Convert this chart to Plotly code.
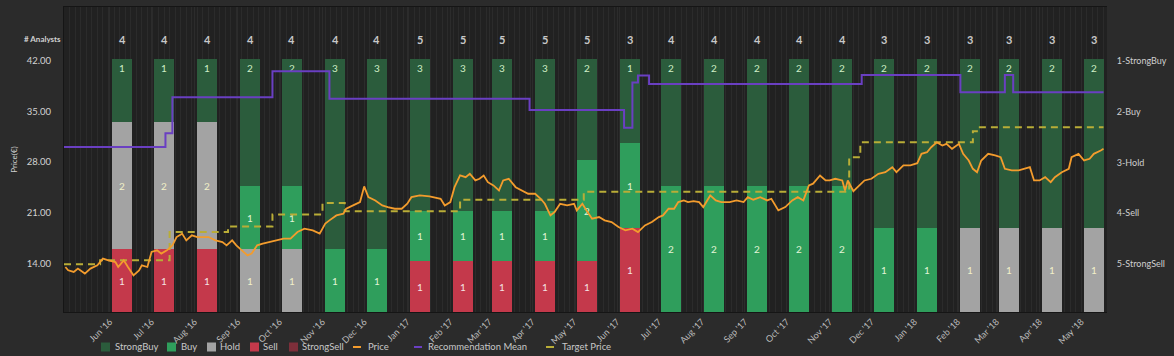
import plotly.graph_objects as go
import pandas as pd

# ---------------- data ----------------
bar_dates = ["2016-06-10", "2016-07-10", "2016-08-10", "2016-09-10", "2016-10-10", "2016-11-10",
             "2016-12-10", "2017-01-10", "2017-02-10", "2017-03-10", "2017-04-10", "2017-05-10",
             "2017-06-10", "2017-07-10", "2017-08-10", "2017-09-10", "2017-10-10", "2017-11-10",
             "2017-12-10", "2018-01-10", "2018-02-10", "2018-03-10", "2018-04-10", "2018-05-10"]
strong_buy = [1, 1, 1, 2, 2, 3, 3, 3, 3, 3, 3, 2, 1, 2, 2, 2, 2, 2, 2, 2, 2, 2, 2, 2]
buy        = [0, 0, 0, 1, 1, 1, 1, 1, 1, 1, 1, 2, 1, 2, 2, 2, 2, 2, 1, 1, 0, 0, 0, 0]
hold       = [2, 2, 2, 1, 1, 0, 0, 0, 0, 0, 0, 0, 0, 0, 0, 0, 0, 0, 0, 0, 1, 1, 1, 1]
sell       = [1, 1, 1, 0, 0, 0, 0, 1, 1, 1, 1, 1, 1, 0, 0, 0, 0, 0, 0, 0, 0, 0, 0, 0]
strong_sell = [0] * 24

price_dates = [
    "2016-04-30", "2016-05-02", "2016-05-06", "2016-05-09", "2016-05-14", "2016-05-18", "2016-05-23",
    "2016-05-27", "2016-05-31", "2016-06-05", "2016-06-07", "2016-06-11", "2016-06-14", "2016-06-18",
    "2016-06-22", "2016-06-24", "2016-06-28", "2016-07-01", "2016-07-05", "2016-07-08", "2016-07-12",
    "2016-07-16", "2016-07-19", "2016-07-23", "2016-07-26", "2016-07-30", "2016-08-03", "2016-08-11",
    "2016-08-16", "2016-08-21", "2016-08-24", "2016-08-28", "2016-08-31", "2016-09-04", "2016-09-08",
    "2016-09-11", "2016-09-15", "2016-09-19", "2016-09-24", "2016-09-29", "2016-10-04", "2016-10-09",
    "2016-10-14", "2016-10-19", "2016-10-25", "2016-10-30", "2016-11-03", "2016-11-06", "2016-11-11",
    "2016-11-16", "2016-11-18", "2016-11-23", "2016-11-28", "2016-12-01", "2016-12-04", "2016-12-09",
    "2016-12-14", "2016-12-18", "2016-12-23", "2016-12-28", "2017-01-01", "2017-01-04", "2017-01-10",
    "2017-01-17", "2017-01-25", "2017-01-28", "2017-02-01", "2017-02-04", "2017-02-08", "2017-02-12",
    "2017-02-15", "2017-02-19", "2017-02-22", "2017-02-25", "2017-02-28", "2017-03-04", "2017-03-08",
    "2017-03-11", "2017-03-15", "2017-03-20", "2017-03-24", "2017-03-29", "2017-04-03", "2017-04-07",
    "2017-04-10", "2017-04-14", "2017-04-17", "2017-04-21", "2017-04-26", "2017-05-01", "2017-05-03",
    "2017-05-07", "2017-05-10", "2017-05-14", "2017-05-19", "2017-05-23", "2017-05-28", "2017-06-02",
    "2017-06-07", "2017-06-12", "2017-06-16", "2017-06-21", "2017-06-26", "2017-07-01", "2017-07-04",
    "2017-07-08", "2017-07-12", "2017-07-15", "2017-07-19", "2017-07-22", "2017-07-26", "2017-07-30",
    "2017-08-02", "2017-08-07", "2017-08-11", "2017-08-15", "2017-08-21", "2017-08-26", "2017-08-31",
    "2017-09-03", "2017-09-07", "2017-09-12", "2017-09-17", "2017-09-20", "2017-09-25", "2017-09-30",
    "2017-10-05", "2017-10-09", "2017-10-13", "2017-10-17", "2017-10-20", "2017-10-25", "2017-10-29",
    "2017-11-01", "2017-11-05", "2017-11-10", "2017-11-12", "2017-11-14", "2017-11-18", "2017-11-22",
    "2017-11-26", "2017-12-01", "2017-12-06", "2017-12-11", "2017-12-16", "2017-12-19", "2017-12-24",
    "2017-12-29", "2018-01-03", "2018-01-06", "2018-01-10", "2018-01-13", "2018-01-17", "2018-01-21",
    "2018-01-24", "2018-01-28", "2018-02-02", "2018-02-05", "2018-02-09", "2018-02-12", "2018-02-15",
    "2018-02-18", "2018-02-23", "2018-02-28", "2018-03-04", "2018-03-07", "2018-03-12", "2018-03-17",
    "2018-03-22", "2018-03-25", "2018-03-28", "2018-04-01", "2018-04-05", "2018-04-09", "2018-04-12",
    "2018-04-17", "2018-04-22", "2018-04-24", "2018-04-29", "2018-05-03", "2018-05-07", "2018-05-10",
    "2018-05-15", "2018-05-17"]
price_values = [
    13.49, 13.03, 12.80, 13.27, 12.58, 13.27, 13.72,
    14.65, 14.41, 14.18, 13.49, 14.41, 13.49, 12.34,
    13.03, 13.72, 13.49, 15.56, 15.79, 15.34, 15.79,
    16.48, 17.63, 18.10, 17.17, 17.86, 17.63, 17.63,
    17.17, 16.94, 16.48, 17.17, 16.48, 15.79, 15.10,
    15.34, 16.48, 16.72, 16.94, 17.17, 17.41, 17.41,
    18.32, 18.79, 18.55, 18.10, 19.48, 19.93, 20.62,
    20.86, 21.54, 22.00, 22.46, 24.62, 23.14, 22.69,
    22.00, 21.77, 21.54, 21.54, 22.23, 23.14, 23.38,
    23.24, 22.92, 22.00, 22.46, 24.52, 26.14, 25.90,
    26.37, 25.45, 25.68, 26.14, 25.21, 24.76, 24.07,
    25.45, 25.68, 24.52, 24.07, 23.61, 23.61, 22.92,
    22.23, 20.62, 21.08, 22.23, 22.00, 22.23, 21.31,
    22.23, 21.31, 20.17, 20.39, 19.93, 19.70, 19.01,
    18.55, 18.79, 18.32, 19.24, 19.70, 20.39, 20.62,
    21.54, 21.54, 22.46, 22.69, 22.46, 22.60, 22.46,
    21.77, 23.38, 22.69, 22.46, 22.46, 22.69, 22.46,
    23.14, 22.79, 23.14, 22.69, 22.92, 21.31, 21.77,
    22.69, 23.14, 22.69, 24.76, 25.00, 26.14, 25.45,
    25.45, 25.68, 25.45, 24.07, 25.45, 23.97, 24.76,
    25.45, 25.68, 26.37, 26.59, 27.28, 26.59, 27.52,
    27.52, 27.83, 29.13, 29.35, 30.04, 30.73, 30.28,
    30.51, 29.82, 30.51, 29.13, 28.21, 27.06, 26.59,
    28.21, 29.13, 28.90, 28.66, 27.06, 26.83, 26.83,
    27.06, 27.28, 25.45, 25.45, 25.90, 25.21, 25.90,
    26.59, 27.06, 28.66, 29.13, 28.21, 28.44, 29.13,
    29.59, 29.82]

target_dates = ["2016-04-29", "2016-05-25", "2016-07-14", "2016-08-25", "2016-09-26", "2016-11-01",
                "2016-11-17", "2017-02-08", "2017-05-08", "2017-11-15", "2017-11-23", "2018-02-12",
                "2018-02-17", "2018-05-17"]
target_values = [13.86, 14.41, 18.32, 19.10, 20.76, 22.32, 21.21, 22.79, 23.90, 28.66, 30.73, 32.25,
                 32.80, 32.80]

rec_dates = ["2016-04-29", "2016-07-11", "2016-07-16", "2016-09-26", "2016-11-06", "2017-03-30",
             "2017-06-06", "2017-06-12", "2017-06-16", "2017-06-24", "2017-11-24", "2018-02-03",
             "2018-03-07", "2018-03-13", "2018-05-17"]
rec_values = [2.70, 2.43, 1.72, 1.21, 1.75, 1.97, 2.32, 1.43, 1.29, 1.46, 1.28, 1.62, 1.28, 1.62, 1.62]

rec_tick_text = ["1-StrongBuy", "2-Buy", "3-Hold", "4-Sell", "5-StrongSell"]
price_ticks = [14, 21, 28, 35, 42]
month_ticks = list(pd.date_range("2016-06-01", "2018-05-01", freq="MS"))

# ---------------- styling ----------------
FONT = "Lato"
C_SB, C_B, C_H, C_S, C_SS = "#2b5c3c", "#2f9e5c", "#a3a3a3", "#c4394b", "#7d2f3a"
C_PRICE, C_REC, C_TGT = "#f39c2d", "#6a3fc2", "#b9ad37"

W, H = 1174, 356
ML, MR, MT, MB = 64, 67, 7, 44
PW, PH = W - ML - MR, H - MT - MB

fig = go.Figure()

bar_width_ms = 14.4 * 86400000
series = [
    ("StrongSell", strong_sell, C_SS, "#f0d8d8", "middle"),
    ("Sell", sell, C_S, "#f4e4e4", "middle"),
    ("Hold", hold, C_H, "#f2f0c8", "middle"),
    ("Buy", buy, C_B, "#e2f4d6", "middle"),
    ("StrongBuy", strong_buy, C_SB, "#cfeec6", "end"),
]
for name, vals, col, tcol, anchor in series:
    fig.add_trace(go.Bar(
        x=bar_dates, y=vals, name=name, marker=dict(color=col, line=dict(width=0)),
        width=bar_width_ms, yaxis="y",
        text=[str(v) if v else "" for v in vals], textposition="inside",
        insidetextanchor=anchor, textangle=0,
        textfont=dict(family=FONT, size=10, color=tcol), showlegend=False,
    ))

fig.add_trace(go.Scatter(x=target_dates, y=target_values, name="Target Price", mode="lines",
                         line=dict(color=C_TGT, width=2, dash="7px,5px", shape="hv"),
                         yaxis="y2", showlegend=False))
fig.add_trace(go.Scatter(x=price_dates, y=price_values, name="Price", mode="lines",
                         line=dict(color=C_PRICE, width=1.8), yaxis="y2", showlegend=False))
fig.add_trace(go.Scatter(x=rec_dates, y=rec_values, name="Recommendation Mean", mode="lines",
                         line=dict(color=C_REC, width=2, shape="hv"), yaxis="y3", showlegend=False))

# analyst counts
totals = [a + b + c + d + e for a, b, c, d, e in zip(strong_buy, buy, hold, sell, strong_sell)]
annotations = []
for d, t in zip(bar_dates, totals):
    annotations.append(dict(x=d, y=1.079, xref="x", yref="y", text=f"<b>{t}</b>", showarrow=False,
                            font=dict(family=FONT, size=11, color="#c8c8c8")))
annotations.append(dict(x=0, y=1.079, xref="paper", yref="y", text="<b># Analysts</b>",
                        showarrow=False, xanchor="right", xshift=-1,
                        font=dict(family=FONT, size=8, color="#d0d0d0")))

# custom compact legend (pixel layout of reference)
def px_x(p):
    return (p - ML) / PW

def px_y(p):
    return (H - MB - p) / PH

legend_items = [
    ("StrongBuy", "box", C_SB, 101, 113),
    ("Buy", "box", C_B, 167, 179),
    ("Hold", "box", C_H, 207, 218),
    ("Sell", "box", C_S, 250, 261),
    ("StrongSell", "box", C_SS, 289, 300),
    ("Price", "line", C_PRICE, 353, 366),
    ("Recommendation Mean", "line", C_REC, 414, 426),
    ("Target Price", "line", C_TGT, 546, 560),
]
shapes = []
LY = 347
for name, kind, col, sx, tx in legend_items:
    if kind == "box":
        shapes.append(dict(type="rect", xref="paper", yref="paper", x0=px_x(sx), x1=px_x(sx + 9),
                           y0=px_y(LY + 4.5), y1=px_y(LY - 4.5), fillcolor=col, line=dict(width=0)))
    else:
        shapes.append(dict(type="line", xref="paper", yref="paper", x0=px_x(sx), x1=px_x(sx + 8),
                           y0=px_y(LY), y1=px_y(LY), line=dict(color=col, width=2)))
    annotations.append(dict(x=px_x(tx), y=px_y(LY), xref="paper", yref="paper", text=name,
                            showarrow=False, xanchor="left", yanchor="middle",
                            font=dict(family=FONT, size=9.5, color="#c8c8c8")))

fig.update_layout(
    width=W, height=H,
    margin=dict(l=ML, r=MR, t=MT, b=MB, autoexpand=False),
    paper_bgcolor="#2b2b2b", plot_bgcolor="#212121",
    barmode="stack", barnorm="fraction", bargap=0,
    font=dict(family=FONT, color="#c8c8c8"),
    showlegend=False,
    xaxis=dict(type="date", range=["2016-04-29", "2018-05-19 12:00"],
               tickvals=month_ticks, tickformat="%b '%y", tickangle=-45,
               tickfont=dict(family=FONT, size=9, color="#bdbdbd"),
               showgrid=True, gridcolor="#2c2c2c", gridwidth=1,
               minor=dict(dtick=4 * 86400000, tick0="2016-04-29", showgrid=True,
                          gridcolor="#2b2b2b", gridwidth=1),
               showline=True, linecolor="#151515", linewidth=1, mirror=True,
               ticks="", zeroline=False),
    yaxis=dict(range=[0, 305 / 253], visible=False, fixedrange=True),
    yaxis2=dict(overlaying="y", side="left", range=[7.27, 49.42], tickvals=price_ticks,
                tickformat=".2f", tickfont=dict(family=FONT, size=9.5, color="#d2d2d2"),
                ticks="outside", ticklen=10, tickcolor="rgba(0,0,0,0)",
                showgrid=False, zeroline=False,
                title=dict(text="Price(€)", font=dict(family=FONT, size=8, color="#d0d0d0"),
                           standoff=8),
                showline=True, linecolor="#151515", linewidth=1),
    yaxis3=dict(overlaying="y", side="right", range=[5.944, -0.056], tickvals=[1, 2, 3, 4, 5],
                ticktext=rec_tick_text, tickfont=dict(family=FONT, size=9, color="#cfcfcf"),
                ticks="outside", ticklen=7, tickcolor="rgba(0,0,0,0)",
                showgrid=False, zeroline=False),
    annotations=annotations,
    shapes=shapes,
)

fig.write_html("out.html", config={"displayModeBar": False},
               post_script="document.body.style.margin='0';document.body.style.overflow='hidden';")
